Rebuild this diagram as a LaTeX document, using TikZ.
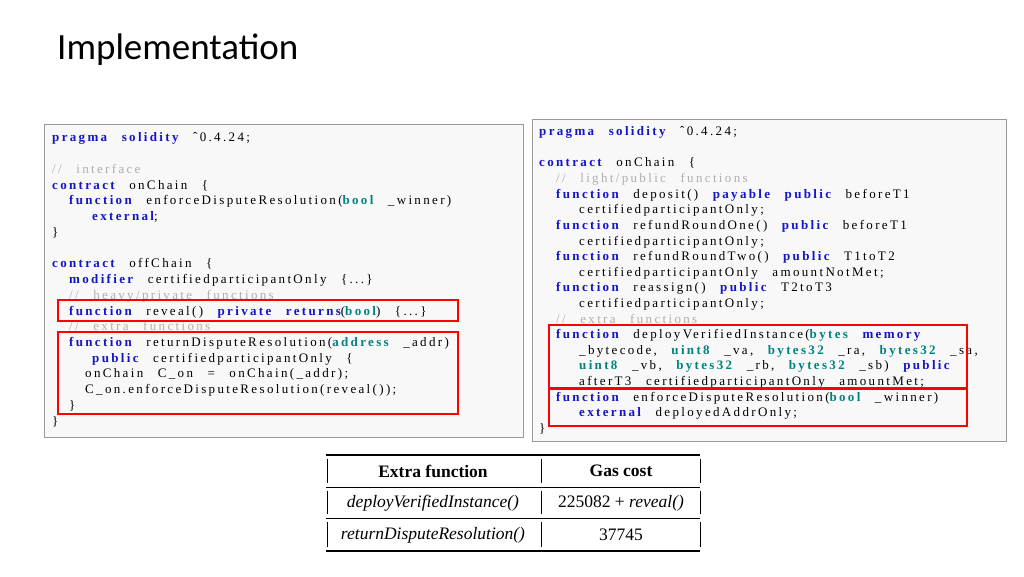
\documentclass[tikz,border=0pt]{standalone}
\usepackage{fontspec}
\setmainfont{Liberation Serif}
\newfontfamily\codef[LetterSpace=18,WordSpace=2.6]{Liberation Serif}
\newfontfamily\titlef{Carlito}
\definecolor{kwc}{RGB}{20,20,200}
\definecolor{tyc}{RGB}{0,130,130}
\definecolor{cmc}{RGB}{175,175,175}
\definecolor{boxc}{RGB}{248,248,248}
\newcommand{\kw}[1]{\textcolor{kwc}{\bfseries #1}}
\newcommand{\ty}[1]{\textcolor{tyc}{\bfseries #1}}
\newcommand{\cm}[1]{\textcolor{cmc}{#1}}
\tikzset{cl/.style={anchor=base west,inner sep=0pt,font=\fontsize{13}{15}\codef},
 codebox/.style={draw=gray!80,fill=boxc,line width=1pt},
 redbox/.style={draw=red,line width=1.6pt},
 tc/.style={font=\fontsize{17.5}{20}\selectfont,inner sep=0pt}}
\begin{document}
\begin{tikzpicture}[x=1pt,y=-1pt]
\useasboundingbox (0,0) rectangle (1024,576);
\node[anchor=west,inner sep=0pt,font=\fontsize{37}{42}\titlef] (title) at (57,50) {Implementation};
% left box
\draw[codebox] (44,124) rectangle (523,437);
\node[cl] (a1) at (52,141) {\kw{pragma} \kw{solidity} ˆ0.4.24;};
\node[cl] (a2) at (52,173) {\cm{// interface}};
\node[cl] (a3) at (52,189) {\kw{contract} onChain \{};
\node[cl] (a4) at (69,204) {\kw{function} enforceDisputeResolution(\ty{bool} \_winner)};
\node[cl] (a5) at (92,220) {\kw{external};};
\node[cl] (a6) at (52,236) {\}};
\node[cl] (a7) at (52,267) {\kw{contract} offChain \{};
\node[cl] (a8) at (69,283) {\kw{modifier} certifiedparticipantOnly \{...\}};
\node[cl] (a9) at (69,299) {\cm{// heavy/private functions}};
\node[cl] (a10) at (69,315) {\kw{function} reveal() \kw{private} \kw{returns}(\ty{bool}) \{...\}};
\node[cl] (a11) at (69,330) {\cm{// extra functions}};
\node[cl] (a12) at (69,346) {\kw{function} returnDisputeResolution(\ty{address} \_addr)};
\node[cl] (a13) at (92,362) {\kw{public} certifiedparticipantOnly \{};
\node[cl] (a14) at (85,377) {onChain C\_on = onChain(\_addr);};
\node[cl] (a15) at (85,393) {C\_on.enforceDisputeResolution(reveal());};
\node[cl] (a16) at (69,409) {\}};
\node[cl] (a17) at (52,425) {\}};
\draw[redbox] (58,300) rectangle (458,321);
\draw[redbox] (58,332) rectangle (458,414);
% right box
\draw[codebox] (532,119) rectangle (1006,441);
\node[cl] (b1) at (539,135) {\kw{pragma} \kw{solidity} ˆ0.4.24;};
\node[cl] (b2) at (539,166) {\kw{contract} onChain \{};
\node[cl] (b3) at (556,182) {\cm{// light/public functions}};
\node[cl] (b4) at (556,198) {\kw{function} deposit() \kw{payable} \kw{public} beforeT1};
\node[cl] (b5) at (579,213) {certifiedparticipantOnly;};
\node[cl] (b6) at (556,229) {\kw{function} refundRoundOne() \kw{public} beforeT1};
\node[cl] (b7) at (579,245) {certifiedparticipantOnly;};
\node[cl] (b8) at (556,260) {\kw{function} refundRoundTwo() \kw{public} T1toT2};
\node[cl] (b9) at (579,276) {certifiedparticipantOnly amountNotMet;};
\node[cl] (b10) at (556,291) {\kw{function} reassign() \kw{public} T2toT3};
\node[cl] (b11) at (579,307) {certifiedparticipantOnly;};
\node[cl] (b12) at (556,323) {\cm{// extra functions}};
\node[cl] (b13) at (556,338) {\kw{function} deployVerifiedInstance(\ty{bytes} \kw{memory}};
\node[cl] (b14) at (579,354) {\_bytecode, \ty{uint8} \_va, \ty{bytes32} \_ra, \ty{bytes32} \_sa,};
\node[cl] (b15) at (579,369) {\ty{uint8} \_vb, \ty{bytes32} \_rb, \ty{bytes32} \_sb) \kw{public}};
\node[cl] (b16) at (579,385) {afterT3 certifiedparticipantOnly amountMet;};
\node[cl] (b17) at (556,401) {\kw{function} enforceDisputeResolution(\ty{bool} \_winner)};
\node[cl] (b18) at (579,416) {\kw{external} deployedAddrOnly;};
\node[cl] (b19) at (539,432) {\}};
\draw[redbox] (549,325) rectangle (967,388);
\draw[redbox] (549,389) rectangle (967,426);
% table
\draw[line width=1.3pt] (326,455) -- (700,455);
\draw[line width=0.6pt] (326,487) -- (700,487);
\draw[line width=0.6pt] (326,518) -- (700,518);
\draw[line width=1.3pt] (326,551) -- (700,551);
\foreach \x in {327,541,700}{
 \draw[line width=1pt] (\x,459) -- (\x,483);
 \draw[line width=1pt] (\x,491) -- (\x,514);
 \draw[line width=1pt] (\x,522) -- (\x,547);}
\node[tc,font=\fontsize{17.5}{20}\selectfont\bfseries] (h1) at (433,471) {Extra function};
\node[tc,font=\fontsize{17.5}{20}\selectfont\bfseries] (h2) at (621,471) {Gas cost};
\node[tc] (r1a) at (433,503) {\textit{deployVerifiedInstance()}};
\node[tc] (r1b) at (621,503) {225082 + \textit{reveal()}};
\node[tc] (r2a) at (433,535) {\textit{returnDisputeResolution()}};
\node[tc] (r2b) at (621,535) {37745};
\end{tikzpicture}
\end{document}
